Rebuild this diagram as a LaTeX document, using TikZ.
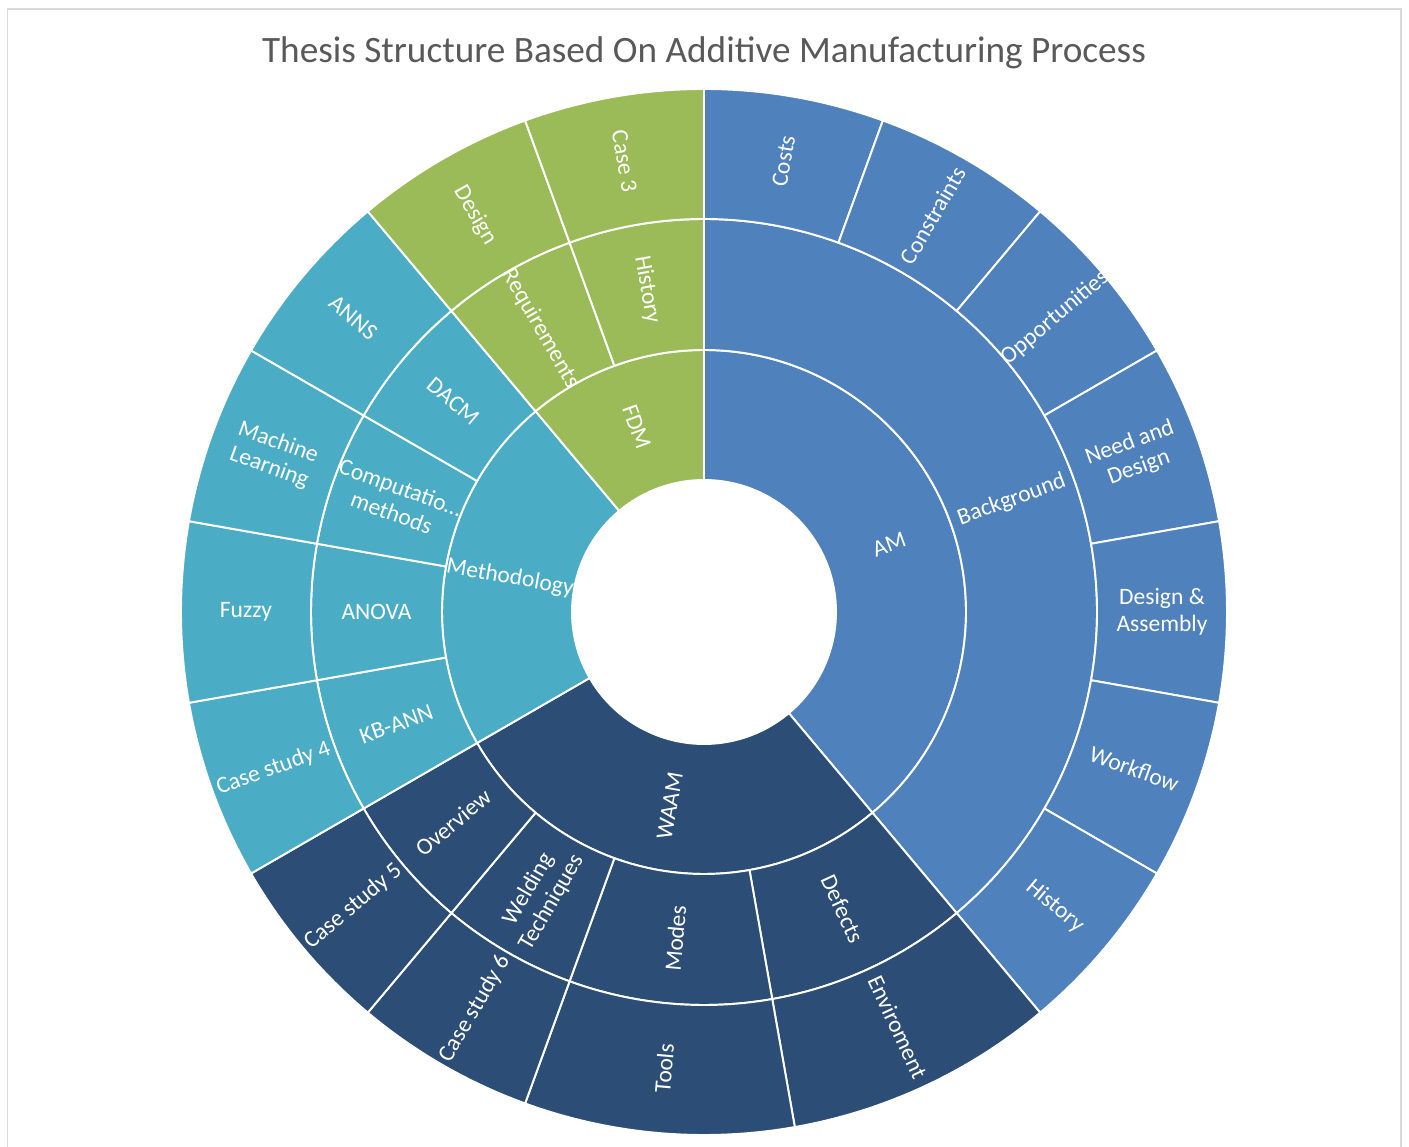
\documentclass[tikz,border=0pt]{standalone}
\usepackage{fontspec}
\setmainfont{Carlito}
\usepackage{tikz}
\usetikzlibrary{calc}
\definecolor{amblue}{RGB}{79,129,189}
\definecolor{waamblue}{RGB}{44,77,117}
\definecolor{methblue}{RGB}{75,172,198}
\definecolor{fdmgreen}{RGB}{155,187,89}
\definecolor{titlegray}{RGB}{89,89,89}
\definecolor{framegray}{RGB}{217,217,217}
\tikzset{
  seg/.style={fill=#1, draw=white, line width=1.1pt, line join=round},
  lbl/.style={text=white, font=\fontsize{13.4}{15.2}\selectfont, align=center, inner sep=0pt},
}
% inner radius / outer radius / from / to / colour / text
\def\seglist{
  132/262/90/-50/amblue/AM,
  132/262/-50/-150/waamblue/WAAM,
  132/262/210/130/methblue/Methodology,
  132/262/130/90/fdmgreen/FDM,
  262/393/90/-50/amblue/Background,
  262/393/-50/-80/waamblue/Defects,
  262/393/-80/-110/waamblue/Modes,
  262/393/-110/-130/waamblue/{Welding\\Techniques},
  262/393/-130/-150/waamblue/Overview,
  262/393/210/190/methblue/KB-ANN,
  262/393/190/170/methblue/ANOVA,
  262/393/170/150/methblue/{Computatio\ldots\\methods},
  262/393/150/130/methblue/DACM,
  262/393/130/110/fdmgreen/Requirements,
  262/393/110/90/fdmgreen/History,
  393/523/90/70/amblue/Costs,
  393/523/70/50/amblue/Constraints,
  393/523/50/30/amblue/Opportunities,
  393/523/30/10/amblue/{Need and\\Design},
  393/523/10/-10/amblue/{Design \&\\Assembly},
  393/523/-10/-30/amblue/Workflow,
  393/523/-30/-50/amblue/History,
  393/523/-50/-80/waamblue/Enviroment,
  393/523/-80/-110/waamblue/Tools,
  393/523/-110/-130/waamblue/Case study 6,
  393/523/-130/-150/waamblue/Case study 5,
  393/523/210/190/methblue/Case study 4,
  393/523/190/170/methblue/Fuzzy,
  393/523/170/150/methblue/{Machine\\Learning},
  393/523/150/130/methblue/ANNS,
  393/523/130/110/fdmgreen/Design,
  393/523/110/90/fdmgreen/Case 3}
\begin{document}
\begin{tikzpicture}[x=0.02cm,y=0.02cm]
\useasboundingbox (0,0) rectangle (1409,1146);
\draw[framegray, line width=0.8pt] (7.5,-2) -- (7.5,1137) -- (1401,1137) -- (1401,-2);
\node[titlegray, font=\fontsize{21.2}{25}\selectfont, anchor=base] (title) at (704,1083)
  {Thesis Structure Based On Additive Manufacturing Process};
\begin{scope}[shift={(704,534)}]
\foreach \ri/\ro/\a/\b/\c/\txt in \seglist
  \draw[seg=\c] (\a:\ri) arc[start angle=\a, end angle=\b, radius=\ri]
    -- (\b:\ro) arc[start angle=\b, end angle=\a, radius=\ro] -- cycle;
\foreach \ri/\ro/\a/\b/\c/\txt [count=\i] in \seglist {
  \pgfmathsetmacro{\amid}{(\a+\b)/2}
  \pgfmathsetmacro{\rmid}{(\ri+\ro)/2}
  \pgfmathsetmacro{\trot}{cos(\amid)<0 ? \amid+180 : \amid}
  \node[lbl, rotate=\trot] (lbl\i) at (\amid:\rmid) {\txt};
}
\end{scope}
\end{tikzpicture}
\end{document}
